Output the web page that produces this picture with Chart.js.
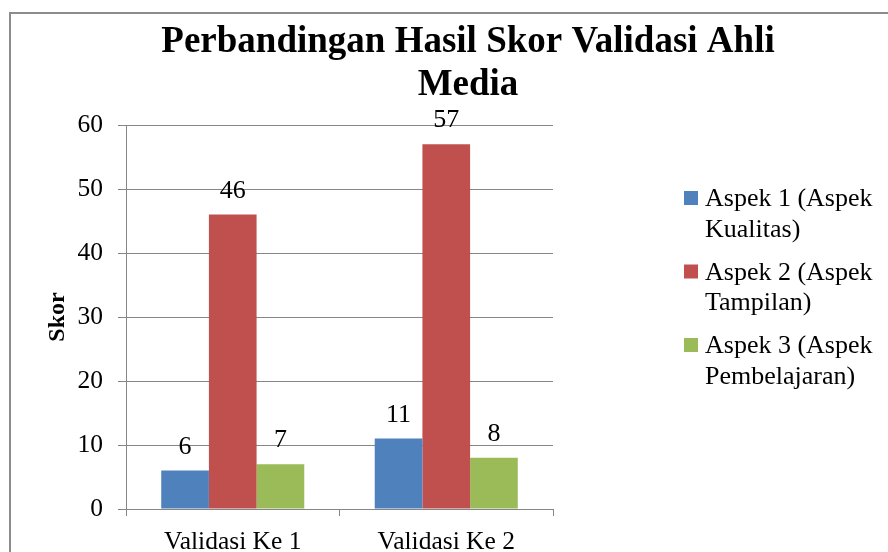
<!DOCTYPE html>
<html>
<head>
<meta charset="utf-8">
<script src="https://cdn.jsdelivr.net/npm/chart.js@4.4.1/dist/chart.umd.min.js"></script>
<style>
  html, body { margin: 0; padding: 0; background: #fff; overflow: hidden; }
  #wrap { position: relative; width: 888px; height: 552px; }
  #frame { position: absolute; left: 9px; top: 12px; width: 1000px; height: 1000px; border: 2px solid #8c8c8c; }
  #chart { position: absolute; left: 0; top: 0; }
</style>
</head>
<body>
<div id="wrap">
  <div id="frame"></div>
  <canvas id="chart" width="888" height="552"></canvas>
</div>
<script>
var judul = ['Perbandingan Hasil Skor Validasi Ahli', 'Media'];
var kategori = ['Validasi Ke 1', 'Validasi Ke 2'];
var namaSeri = ['Aspek 1 (Aspek Kualitas)', 'Aspek 2 (Aspek Tampilan)', 'Aspek 3 (Aspek Pembelajaran)'];
var aspek1 = [6, 11];
var aspek2 = [46, 57];
var aspek3 = [7, 8];
var warna = ['#4F81BD', '#C0504D', '#9BBB59'];

var serif = '"Liberation Serif", "Times New Roman", serif';
var abu = '#868686';

// judul, label nilai dan legenda digambar sendiri
var gambarTeks = {
  id: 'gambarTeks',
  afterDatasetsDraw: function(chart) {
    var ctx = chart.ctx;
    ctx.save();
    ctx.fillStyle = '#000';
    ctx.textAlign = 'center';
    ctx.textBaseline = 'alphabetic';
    ctx.font = '26px ' + serif;
    chart.data.datasets.forEach(function(ds, i) {
      var meta = chart.getDatasetMeta(i);
      meta.data.forEach(function(bar, j) {
        ctx.fillText(ds.data[j], bar.x, bar.y - 17);
      });
    });
    ctx.restore();
  },
  afterDraw: function(chart) {
    var ctx = chart.ctx;
    ctx.save();
    ctx.fillStyle = '#000';
    ctx.textBaseline = 'alphabetic';

    ctx.textAlign = 'center';
    ctx.font = 'bold 37px ' + serif;
    judul.forEach(function(t, i) {
      ctx.fillText(t, 468, 52 + i * 43);
    });

    ctx.textAlign = 'left';
    ctx.font = '26px ' + serif;
    chart.data.datasets.forEach(function(ds, i) {
      var y = 206 + i * 73.5;
      ctx.fillStyle = ds.backgroundColor;
      ctx.fillRect(684, y - 15, 14, 14);
      ctx.fillStyle = '#000';
      var kata = ds.label.split(' ');
      var baris = [];
      var cur = '';
      kata.forEach(function(k) {
        var coba = cur ? cur + ' ' + k : k;
        if (cur && ctx.measureText(coba).width > 175) {
          baris.push(cur);
          cur = k;
        } else {
          cur = coba;
        }
      });
      baris.push(cur);
      baris.forEach(function(b, n) {
        ctx.fillText(b, 705, y + n * 30.5);
      });
    });
    ctx.restore();
  }
};

new Chart(document.getElementById('chart'), {
  type: 'bar',
  data: {
    labels: kategori,
    datasets: [
      { label: namaSeri[0], data: aspek1, backgroundColor: warna[0] },
      { label: namaSeri[1], data: aspek2, backgroundColor: warna[1] },
      { label: namaSeri[2], data: aspek3, backgroundColor: warna[2] }
    ]
  },
  options: {
    responsive: false,
    animation: false,
    categoryPercentage: 0.67,
    barPercentage: 1.0,
    layout: { padding: { top: 125, left: 0, right: 335, bottom: 0 } },
    plugins: {
      legend: { display: false },
      title: { display: false },
      tooltip: { enabled: false }
    },
    scales: {
      x: {
        grid: { drawOnChartArea: false, drawTicks: true, tickLength: 7, color: abu, offset: true },
        border: { color: abu, width: 1 },
        ticks: { color: '#000', font: { family: serif, size: 25.5 }, padding: 11, maxRotation: 0 },
        afterFit: function(s) { s.height = 43; }
      },
      y: {
        min: 0,
        max: 60,
        ticks: { stepSize: 10, color: '#000', font: { family: serif, size: 25.5 }, padding: 15 },
        grid: { color: abu, tickLength: 8, drawTicks: true },
        border: { color: abu, width: 1 },
        title: {
          display: true,
          text: 'Skor',
          color: '#000',
          font: { family: serif, size: 24, weight: 'bold' },
          padding: { top: 43, bottom: 0 }
        },
        afterFit: function(s) { s.width = 126; }
      }
    }
  },
  plugins: [gambarTeks]
});
</script>
</body>
</html>
